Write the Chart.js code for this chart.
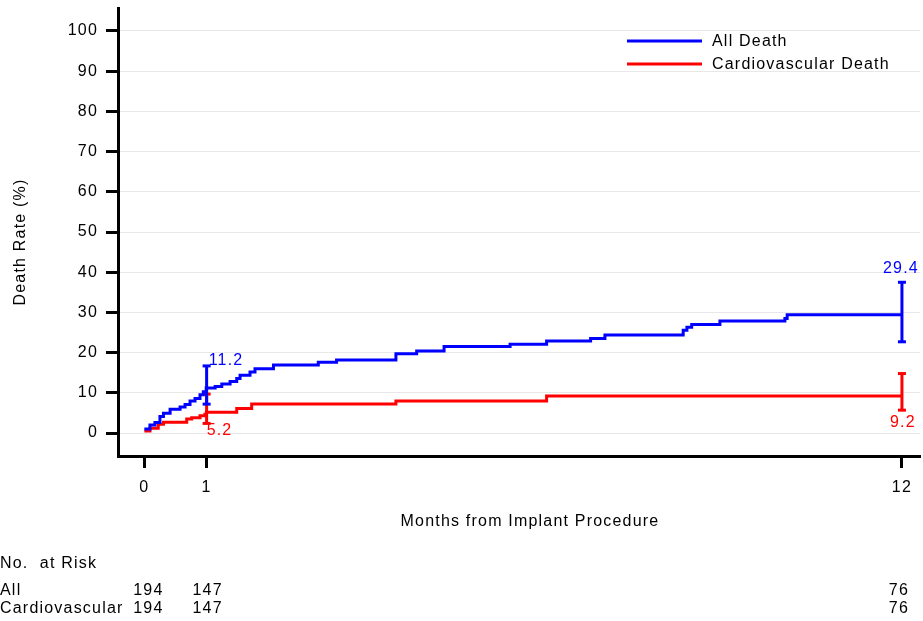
<!DOCTYPE html>
<html>
<head>
<meta charset="utf-8">
<title>Death Rate</title>
<script src="https://cdn.jsdelivr.net/npm/chart.js@4.4.1/dist/chart.umd.min.js"></script>
<style>
  html, body { margin: 0; padding: 0; background: #fff; }
  canvas { display: block; }
</style>
</head>
<body>
<canvas id="km-chart" width="923" height="621"></canvas>
<script>
// x axis runs in days, ticks are labelled in months
const tickDays = [0, 30, 365];
const tickLabels = ['0', '1', '12'];
const yTicks = [0, 10, 20, 30, 40, 50, 60, 70, 80, 90, 100];

// All Death (step curve, % at each event day)
const allDays = [0, 2.7, 5.1, 7.5, 9.2, 12.4, 17.2, 19.6, 22.0, 24.4, 26.8, 28.4, 29.8, 34.1, 37.3, 41.3, 44.5, 46.1, 50.9, 53.3, 62.2, 83.8, 92.6, 121.2, 131.2, 144.4, 176.2, 193.8, 215.0, 221.9, 259.6, 261.4, 263.7, 277.3, 308.6, 309.7, 365];
const allRate = [1.0, 2.0, 2.6, 4.1, 4.9, 5.9, 6.5, 7.1, 8.0, 8.6, 9.5, 10.3, 11.2, 11.6, 12.2, 12.8, 13.6, 14.4, 15.2, 16.0, 16.9, 17.6, 18.2, 19.7, 20.4, 21.5, 22.1, 22.9, 23.5, 24.4, 25.6, 26.3, 27.0, 27.9, 28.5, 29.4, 29.4];

// Cardiovascular Death
const cvDays = [0, 2.7, 6.7, 9.2, 20.4, 22.8, 26.8, 29.2, 29.9, 44.5, 51.7, 121.2, 193.8, 365];
const cvRate = [0.5, 1.2, 2.2, 2.7, 3.5, 3.8, 4.3, 4.7, 5.2, 6.1, 7.2, 8.0, 9.2, 9.2];

// estimates with confidence intervals at 1 and 12 months
const ciDays = [30, 365];
const allEst = [11.2, 29.4];
const allLow = [7.2, 22.7];
const allHigh = [16.7, 37.5];
const cvEst = [5.2, 9.2];
const cvLow = [2.4, 5.7];
const cvHigh = [9.7, 14.8];

// number at risk table
const riskTitle = 'No.  at Risk';
const riskRows = ['All', 'Cardiovascular'];
const riskAll = [194, 147, 76];
const riskCv = [194, 147, 76];

const xTitle = 'Months from Implant Procedure';
const yTitle = 'Death Rate (%)';

const FONT = '"Liberation Sans", Arial, sans-serif';
const BLUE = '#0000ff';
const RED = '#ff0000';

Chart.defaults.font.family = FONT;
Chart.defaults.font.size = 16;
Chart.defaults.color = '#000';

function toPoints(xs, ys) {
  return xs.map((d, i) => ({ x: d, y: ys[i] }));
}

// error bars: low -> high for each day, broken by a null point
function ciPoints(lows, highs) {
  const pts = [];
  ciDays.forEach((d, i) => {
    pts.push({ x: d, y: lows[i] }, { x: d, y: highs[i] }, { x: d, y: null });
  });
  return pts;
}

const overlayText = {
  id: 'overlayText',
  beforeDraw(chart) {
    chart.ctx.letterSpacing = '1.2px';
  },
  afterDatasetsDraw(chart) {
    const ctx = chart.ctx;
    const xs = chart.scales.x;
    const ys = chart.scales.y;
    ctx.save();
    ctx.font = '16px ' + FONT;

    // estimate labels at 1 month
    ctx.textAlign = 'left';
    ctx.fillStyle = BLUE;
    ctx.textBaseline = 'alphabetic';
    ctx.fillText(allEst[0].toFixed(1), xs.getPixelForValue(ciDays[0]) + 2, ys.getPixelForValue(allHigh[0]) - 1);
    ctx.fillStyle = RED;
    ctx.textBaseline = 'top';
    ctx.fillText(cvEst[0].toFixed(1), xs.getPixelForValue(ciDays[0]), ys.getPixelForValue(cvLow[0]) - 1);

    // estimate labels at 12 months
    ctx.textAlign = 'center';
    ctx.fillStyle = BLUE;
    ctx.textBaseline = 'alphabetic';
    ctx.fillText(allEst[1].toFixed(1), xs.getPixelForValue(ciDays[1]) - 1, ys.getPixelForValue(allHigh[1]) - 9);
    ctx.fillStyle = RED;
    ctx.textBaseline = 'top';
    ctx.fillText(cvEst[1].toFixed(1), xs.getPixelForValue(ciDays[1]) + 1, ys.getPixelForValue(cvLow[1]) + 4);

    // axis titles
    ctx.fillStyle = '#000';
    ctx.textAlign = 'center';
    ctx.textBaseline = 'middle';
    ctx.fillText(xTitle, 530, 522);
    ctx.save();
    ctx.translate(21, 242);
    ctx.rotate(-Math.PI / 2);
    ctx.fillText(yTitle, 0, 0);
    ctx.restore();

    // legend
    const legend = [['All Death', BLUE, 41], ['Cardiovascular Death', RED, 64]];
    ctx.lineWidth = 3;
    ctx.textAlign = 'left';
    legend.forEach(([label, color, ly]) => {
      ctx.strokeStyle = color;
      ctx.beginPath();
      ctx.moveTo(627, ly);
      ctx.lineTo(702, ly);
      ctx.stroke();
      ctx.fillStyle = '#000';
      ctx.fillText(label, 712, ly + 1);
    });

    // number at risk
    ctx.fillStyle = '#000';
    ctx.fillText(riskTitle, 0, 564);
    ctx.fillText(riskRows[0], 0, 591);
    ctx.fillText(riskRows[1], 0, 609);
    ctx.textAlign = 'center';
    tickDays.forEach((d, i) => {
      const px = xs.getPixelForValue(d) + (i === 0 ? 4 : i === 1 ? 1 : -3);
      ctx.fillText(String(riskAll[i]), px, 591);
      ctx.fillText(String(riskCv[i]), px, 609);
    });
    ctx.restore();
  }
};

const ctx = document.getElementById('km-chart').getContext('2d');
new Chart(ctx, {
  type: 'line',
  data: {
    datasets: [
      {
        label: 'All Death',
        data: toPoints(allDays, allRate),
        borderColor: BLUE,
        borderWidth: 3,
        stepped: true,
        pointRadius: 0
      },
      {
        label: 'Cardiovascular Death',
        data: toPoints(cvDays, cvRate),
        borderColor: RED,
        borderWidth: 3,
        stepped: true,
        pointRadius: 0
      },
      {
        label: 'All Death CI',
        data: ciPoints(allLow, allHigh),
        borderColor: BLUE,
        borderWidth: 3,
        spanGaps: false,
        pointStyle: 'line',
        pointRadius: 4,
        pointBorderWidth: 3,
        pointBorderColor: BLUE
      },
      {
        label: 'Cardiovascular Death CI',
        data: ciPoints(cvLow, cvHigh),
        borderColor: RED,
        borderWidth: 3,
        spanGaps: false,
        pointStyle: 'line',
        pointRadius: 4,
        pointBorderWidth: 3,
        pointBorderColor: RED
      }
    ]
  },
  options: {
    responsive: false,
    animation: false,
    devicePixelRatio: 1,
    layout: { autoPadding: false, padding: { left: 7, top: 8, right: 3, bottom: 86 } },
    plugins: {
      legend: { display: false },
      tooltip: { enabled: false }
    },
    scales: {
      x: {
        type: 'linear',
        min: -12.7,
        max: 373.7,
        afterBuildTicks: function (scale) {
          scale.ticks = tickDays.map(v => ({ value: v }));
        },
        afterFit: function (scale) {
          scale.height = 79;
          scale.paddingLeft = 0;
          scale.paddingRight = 0;
        },
        border: { color: '#000', width: 3 },
        grid: { drawOnChartArea: false, tickLength: 12, tickWidth: 3, tickColor: '#000', color: '#000' },
        ticks: {
          padding: 10,
          maxRotation: 0,
          autoSkip: false,
          callback: function (value, index) {
            return tickLabels[index];
          }
        }
      },
      y: {
        min: -5.7,
        max: 105.7,
        afterBuildTicks: function (scale) {
          scale.ticks = yTicks.map(v => ({ value: v }));
        },
        afterFit: function (scale) {
          scale.width = 111;
          scale.paddingTop = 0;
          scale.paddingBottom = 0;
        },
        border: { color: '#000', width: 3 },
        grid: { color: '#e8e8e8', lineWidth: 1, tickLength: 12, tickWidth: 3, tickColor: '#000' },
        ticks: { padding: 8 }
      }
    }
  },
  plugins: [overlayText]
});
</script>
</body>
</html>
